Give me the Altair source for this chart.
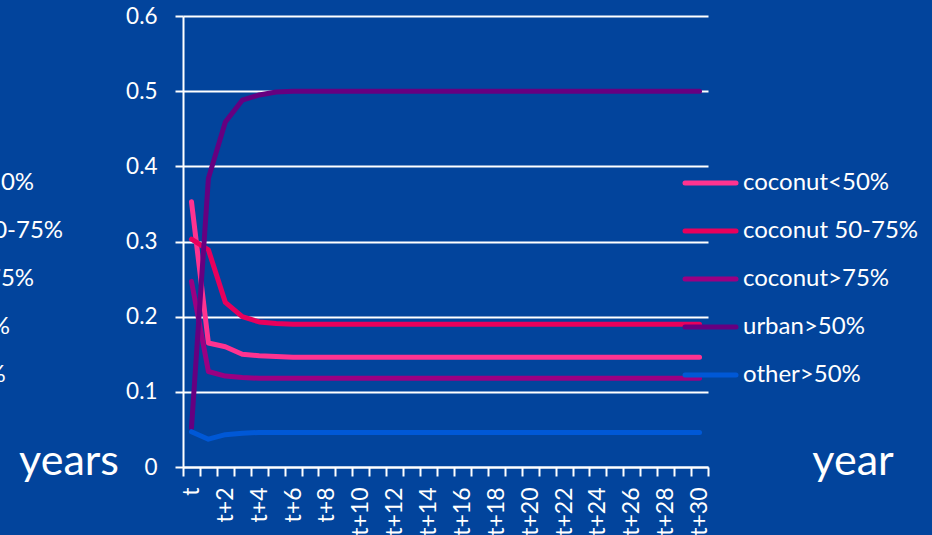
import altair as alt
import pandas as pd

periods = ["t"] + [f"t+{k}" for k in range(1, 31)]
series = ["coconut<50%", "coconut 50-75%", "coconut>75%", "urban>50%", "other>50%"]
colors = ["#ff3390", "#e8005c", "#9b0082", "#660080", "#0058d6"]

coconut_lt50 = [0.353, 0.165, 0.160, 0.150, 0.148, 0.147, 0.146, 0.146, 0.146, 0.146,
                0.146, 0.146, 0.146, 0.146, 0.146, 0.146, 0.146, 0.146, 0.146, 0.146,
                0.146, 0.146, 0.146, 0.146, 0.146, 0.146, 0.146, 0.146, 0.146, 0.146, 0.146]
coconut_50_75 = [0.303, 0.289, 0.219, 0.200, 0.193, 0.191, 0.190, 0.190, 0.190, 0.190,
                 0.190, 0.190, 0.190, 0.190, 0.190, 0.190, 0.190, 0.190, 0.190, 0.190,
                 0.190, 0.190, 0.190, 0.190, 0.190, 0.190, 0.190, 0.190, 0.190, 0.190, 0.190]
coconut_gt75 = [0.247, 0.127, 0.121, 0.119, 0.118, 0.118, 0.118, 0.118, 0.118, 0.118,
                0.118, 0.118, 0.118, 0.118, 0.118, 0.118, 0.118, 0.118, 0.118, 0.118,
                0.118, 0.118, 0.118, 0.118, 0.118, 0.118, 0.118, 0.118, 0.118, 0.118, 0.118]
urban_gt50 = [0.052, 0.384, 0.459, 0.488, 0.495, 0.499, 0.500, 0.500, 0.500, 0.500,
              0.500, 0.500, 0.500, 0.500, 0.500, 0.500, 0.500, 0.500, 0.500, 0.500,
              0.500, 0.500, 0.500, 0.500, 0.500, 0.500, 0.500, 0.500, 0.500, 0.500, 0.500]
other_gt50 = [0.047, 0.037, 0.043, 0.045, 0.046, 0.046, 0.046, 0.046, 0.046, 0.046,
              0.046, 0.046, 0.046, 0.046, 0.046, 0.046, 0.046, 0.046, 0.046, 0.046,
              0.046, 0.046, 0.046, 0.046, 0.046, 0.046, 0.046, 0.046, 0.046, 0.046, 0.046]

values = [coconut_lt50, coconut_50_75, coconut_gt75, urban_gt50, other_gt50]

rows = []
for s, vals in zip(series, values):
    for i, (p, v) in enumerate(zip(periods, vals)):
        rows.append({"series": s, "i": i, "period": p, "value": v})
df = pd.DataFrame(rows)
legend_df = pd.DataFrame({"series": series, "li": list(range(len(series)))})

FONT = "Lato"
W, H = 525, 451
BG = "#02449c"

color_scale = alt.Scale(domain=series, range=colors)
edges = [k - 0.5 for k in range(32)]

label_expr = ("round(datum.value + 0.5) == 0 ? 't' : "
              "(round(datum.value + 0.5) % 2 == 0 && round(datum.value + 0.5) <= 30 ? "
              "'t+' + round(datum.value + 0.5) : '')")

lines = alt.Chart(df).mark_line(strokeWidth=5, strokeCap="round", strokeJoin="round").encode(
    x=alt.X("i:Q", scale=alt.Scale(domain=[-0.5, 30.5], nice=False, zero=False),
            axis=alt.Axis(values=edges, labelExpr=label_expr, labelAngle=270,
                          labelOffset=W / 31 / 2, labelPadding=11, tickSize=9,
                          labelFontSize=23, grid=False, title=None,
                          labelOverlap=False, labelFlush=False, labelBound=False)),
    y=alt.Y("value:Q", scale=alt.Scale(domain=[0, 0.6], nice=False),
            axis=alt.Axis(values=[0, 0.1, 0.2, 0.3, 0.4, 0.5, 0.6], format=".1~f",
                          tickSize=8, labelPadding=18, labelFontSize=22.5, grid=True,
                          title=None)),
    color=alt.Color("series:N", scale=color_scale, legend=None),
    order=alt.Order("i:Q"),
)

leg_y = alt.Y("li:Q", scale=alt.Scale(domain=[0, 4], range=[167, 359]), axis=None)

leg_rules = alt.Chart(legend_df).mark_rule(strokeWidth=5, strokeCap="round").encode(
    x=alt.value(502), x2=alt.value(553), y=leg_y,
    color=alt.Color("series:N", scale=color_scale, legend=None),
)
leg_text = alt.Chart(legend_df).mark_text(align="left", baseline="middle", font=FONT,
                                          fontSize=24, color="white").encode(
    x=alt.value(560), y=leg_y, text="series:N",
)
ghost_text = alt.Chart(legend_df).mark_text(align="left", baseline="middle", font=FONT,
                                            fontSize=24, color="white").encode(
    x=alt.value(-295), y=leg_y, text="series:N",
)

words = pd.DataFrame({"word": ["years", "year"], "wx": [0, 1]})
word_text = alt.Chart(words).mark_text(align="center", baseline="alphabetic", font=FONT,
                                       fontSize=43, color="white").encode(
    x=alt.X("wx:Q", scale=alt.Scale(domain=[0, 1], range=[-114, 670]), axis=None),
    y=alt.value(459), text="word:N",
)

chart = alt.layer(lines, leg_rules, leg_text, ghost_text, word_text).resolve_scale(
    y="independent", x="independent"
).properties(
    width=W, height=H, background=BG,
    autosize=alt.AutoSizeParams(type="none"),
    padding={"left": 183, "top": 16, "right": 224, "bottom": 68},
).configure_view(stroke=None).configure_axis(
    domainColor="white", domainWidth=2, tickColor="white", tickWidth=2,
    gridColor="white", gridWidth=2, gridOpacity=1,
    labelColor="white", labelFont=FONT,
)

chart.save("out.html", embed_options={"renderer": "svg", "actions": False})
